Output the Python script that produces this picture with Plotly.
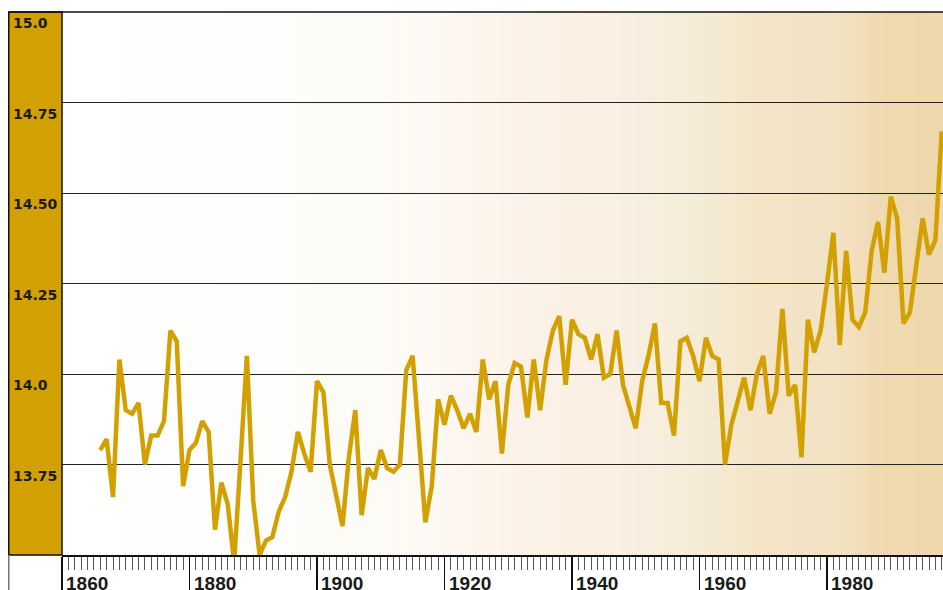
import plotly.graph_objects as go

# ---- data ----
years = list(range(1866, 1999))
temps = [
    13.79, 13.82, 13.66, 14.04, 13.90, 13.89, 13.92, 13.75, 13.83, 13.83,  # 1866-1875
    13.87, 14.12, 14.09, 13.69, 13.79, 13.81, 13.87, 13.84, 13.57, 13.70,  # 1876-1885
    13.64, 13.48, 13.76, 14.05, 13.65, 13.50, 13.54, 13.55, 13.62, 13.66,  # 1886-1895
    13.73, 13.84, 13.78, 13.73, 13.98, 13.95, 13.75, 13.67, 13.58, 13.77,  # 1896-1905
    13.90, 13.61, 13.74, 13.71, 13.79, 13.74, 13.73, 13.75, 14.01, 14.05,  # 1906-1915
    13.82, 13.59, 13.69, 13.93, 13.86, 13.94, 13.90, 13.85, 13.89, 13.84,  # 1916-1925
    14.04, 13.93, 13.98, 13.78, 13.97, 14.03, 14.02, 13.88, 14.04, 13.90,  # 1926-1935
    14.04, 14.12, 14.16, 13.97, 14.15, 14.11, 14.10, 14.04, 14.11, 13.99,  # 1936-1945
    14.00, 14.12, 13.97, 13.91, 13.85, 13.98, 14.05, 14.14, 13.92, 13.92,  # 1946-1955
    13.83, 14.09, 14.10, 14.05, 13.98, 14.10, 14.05, 14.04, 13.75, 13.86,  # 1956-1965
    13.93, 13.99, 13.90, 14.00, 14.05, 13.89, 13.95, 14.18, 13.94, 13.97,  # 1966-1975
    13.77, 14.15, 14.06, 14.12, 14.25, 14.39, 14.08, 14.34, 14.15, 14.13,  # 1976-1985
    14.17, 14.34, 14.42, 14.28, 14.49, 14.43, 14.14, 14.17, 14.30, 14.43,  # 1986-1995
    14.33, 14.37, 14.67,                                                   # 1996-1998
]
y_tick_vals = [15.0, 14.75, 14.50, 14.25, 14.0, 13.75]
y_tick_text = ["15.0", "14.75", "14.50", "14.25", "14.0", "13.75"]
x_tick_vals = [1860, 1880, 1900, 1920, 1940, 1960, 1980]
x_tick_text = ["1860", "1880", "1900", "1920", "1940", "1960", "1980"]

# ---- layout constants (page pixels; body margin removed below) ----
W, H = 943, 590
ML, MR, MT, MB = 62, 0, 12, 35
PW, PH = W - ML - MR, H - MT - MB
GOLD = "rgb(210,160,0)"
FONT = "DejaVu Sans"
XFONT = "Liberation Sans"
FRAME_X = 8.75

def px_x(px):  # figure pixel -> paper x
    return (px - ML) / PW

def px_y(py):  # figure pixel -> paper y
    return (H - MB - py) / PH

fig = go.Figure()
fig.add_trace(go.Scatter(
    x=years, y=temps, mode="lines",
    line=dict(color=GOLD, width=4.5),
    hoverinfo="skip", showlegend=False,
))

shapes = []
# background gradient (horizontal, white -> tan)
stops = [
    (0.00, (255, 255, 255)), (0.25, (253, 253, 252)), (0.30, (252, 252, 246)),
    (0.42, (254, 249, 244)), (0.48, (253, 244, 237)), (0.58, (250, 240, 228)),
    (0.66, (248, 238, 224)), (0.72, (244, 237, 216)), (0.78, (244, 229, 202)),
    (0.88, (242, 226, 196)), (0.93, (240, 217, 176)), (1.00, (239, 216, 172)),
]
def col_at(f):
    for (f0, c0), (f1, c1) in zip(stops[:-1], stops[1:]):
        if f0 <= f <= f1:
            t = (f - f0) / (f1 - f0) if f1 > f0 else 0
            return tuple(round(a + (b - a) * t) for a, b in zip(c0, c1))
    return stops[-1][1]
N = 60
for i in range(N):
    f0, f1 = i / N, (i + 1) / N
    c = col_at((f0 + f1) / 2)
    shapes.append(dict(type="rect", xref="paper", yref="paper",
                       x0=f0, x1=f1 + 0.002, y0=0, y1=1, layer="below",
                       line=dict(width=0), fillcolor="rgb(%d,%d,%d)" % c))
# gold band on the left
shapes.append(dict(type="rect", xref="paper", yref="paper",
                   x0=px_x(FRAME_X), x1=0, y0=0, y1=1, layer="above",
                   line=dict(color="#111", width=1.5), fillcolor=GOLD))
# top border
shapes.append(dict(type="line", xref="paper", yref="paper",
                   x0=px_x(FRAME_X), x1=1, y0=1, y1=1, layer="above",
                   line=dict(color="#111", width=1.5)))
# left frame line below band
shapes.append(dict(type="line", xref="paper", yref="paper",
                   x0=px_x(FRAME_X), x1=px_x(FRAME_X), y0=0, y1=px_y(H + 2), layer="above",
                   line=dict(color="#777", width=1.5)))

annotations = []
for v, t in zip(y_tick_vals, y_tick_text):
    annotations.append(dict(x=px_x(11), xref="paper", y=v, yref="y",
                            text="<b>%s</b>" % t, showarrow=False,
                            xanchor="left", yanchor="top", yshift=-1,
                            font=dict(family=FONT, size=14, color="#1a1a1a")))
for v, t in zip(x_tick_vals, x_tick_text):
    annotations.append(dict(x=v, xref="x", y=px_y(571), yref="paper",
                            text="<b>%s</b>" % t, showarrow=False,
                            xanchor="left", yanchor="top", xshift=2,
                            font=dict(family=XFONT, size=19, color="#1a1a1a")))

fig.update_layout(
    width=W, height=H,
    margin=dict(l=ML, r=MR, t=MT, b=MB, pad=0),
    paper_bgcolor="white", plot_bgcolor="white",
    shapes=shapes, annotations=annotations,
    xaxis=dict(
        range=[1860, 1860 + PW / 6.375], tick0=1860, dtick=20,
        ticks="outside", ticklen=36, tickcolor="#111", tickwidth=1.2,
        showticklabels=False, showgrid=False, zeroline=False,
        showline=True, linecolor="#111", linewidth=2,
        minor=dict(dtick=1, tick0=1860, ticks="outside", ticklen=13,
                   tickcolor="#555", tickwidth=1, showgrid=False),
        fixedrange=True,
    ),
    yaxis=dict(
        range=[13.5, 15.0], tick0=13.5, dtick=0.25,
        showticklabels=False, ticks="", showgrid=True,
        gridcolor="#222", gridwidth=1, zeroline=False, showline=False,
        fixedrange=True,
    ),
)

fig.write_html(
    "out.html",
    config={"displayModeBar": False, "staticPlot": True},
    post_script="document.body.style.margin='0';"
                "document.body.style.padding='0';"
                "document.documentElement.style.overflow='hidden';"
                "document.body.style.overflow='hidden';",
)
